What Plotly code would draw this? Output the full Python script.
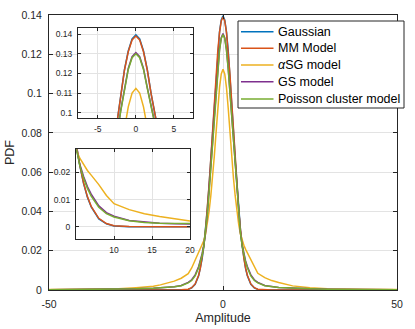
import plotly.graph_objects as go

amplitude = [-50, -40, -30, -25, -20, -18, -16, -14, -12, -10, -9, -8, -7, -6.5, -6, -5.5, -5, -4.5, -4, -3.5, -3, -2.5, -2, -1.5, -1, -0.5,
             0,
             0.5, 1, 1.5, 2, 2.5, 3, 3.5, 4, 4.5, 5, 5.5, 6, 6.5, 7, 8, 9, 10, 12, 14, 16, 18, 20, 25, 30, 40, 50]

gaussian = [0, 0, 0, 0, 0, 0, 0, 0, 0, 0.0003, 0.0011, 0.0029, 0.0073, 0.0109, 0.0159, 0.0225, 0.0309, 0.0412, 0.0532, 0.0667, 0.0811, 0.0958, 0.1097, 0.1219, 0.1314, 0.1375,
            0.1396,
            0.1375, 0.1314, 0.1219, 0.1097, 0.0958, 0.0811, 0.0667, 0.0532, 0.0412, 0.0309, 0.0225, 0.0159, 0.0109, 0.0073, 0.0029, 0.0011, 0.0003, 0, 0, 0, 0, 0, 0, 0, 0, 0]

mm_model = [0, 0, 0, 0, 0, 0, 0, 0, 0.0001, 0.0004, 0.0012, 0.0031, 0.0075, 0.0111, 0.0161, 0.0227, 0.0311, 0.0414, 0.0535, 0.0669, 0.0812, 0.0958, 0.1096, 0.1216, 0.1310, 0.1370,
            0.1390,
            0.1370, 0.1310, 0.1216, 0.1096, 0.0958, 0.0812, 0.0669, 0.0535, 0.0414, 0.0311, 0.0227, 0.0161, 0.0111, 0.0075, 0.0031, 0.0012, 0.0004, 0.0001, 0, 0, 0, 0, 0, 0, 0, 0]

asg_model = [0.0002, 0.0004, 0.0007, 0.0012, 0.0019, 0.0026, 0.0034, 0.0045, 0.0060, 0.0083, 0.0112, 0.0150, 0.0188, 0.0207, 0.0228, 0.0252, 0.0285, 0.0335, 0.0400, 0.0480, 0.0570, 0.0680, 0.0800, 0.0925, 0.1030, 0.1100,
             0.1124,
             0.1100, 0.1030, 0.0925, 0.0800, 0.0680, 0.0570, 0.0480, 0.0400, 0.0335, 0.0285, 0.0252, 0.0228, 0.0207, 0.0190, 0.0155, 0.0115, 0.0085, 0.0063, 0.0048, 0.0038, 0.0029, 0.0021, 0.0012, 0.0007, 0.0004, 0.0002]

gs_model = [0.0001, 0.0002, 0.0004, 0.0006, 0.0009, 0.0011, 0.0013, 0.0017, 0.0023, 0.0039, 0.0052, 0.0077, 0.0120, 0.0148, 0.0185, 0.0230, 0.0295, 0.0390, 0.0500, 0.0620, 0.0750, 0.0880, 0.1010, 0.1128, 0.1225, 0.1285,
            0.1306,
            0.1285, 0.1225, 0.1128, 0.1010, 0.0880, 0.0750, 0.0620, 0.0500, 0.0390, 0.0295, 0.0230, 0.0185, 0.0148, 0.0120, 0.0077, 0.0052, 0.0039, 0.0023, 0.0017, 0.0013, 0.0011, 0.0009, 0.0006, 0.0004, 0.0002, 0.0001]

poisson_model = [0.0001, 0.0002, 0.0004, 0.0006, 0.0009, 0.0011, 0.0013, 0.0016, 0.0022, 0.0036, 0.0048, 0.0072, 0.0113, 0.0141, 0.0178, 0.0226, 0.0293, 0.0389, 0.0499, 0.0619, 0.0748, 0.0877, 0.1006, 0.1124, 0.1220, 0.1280,
                 0.1300,
                 0.1280, 0.1220, 0.1124, 0.1006, 0.0877, 0.0748, 0.0619, 0.0499, 0.0389, 0.0293, 0.0226, 0.0178, 0.0141, 0.0113, 0.0072, 0.0048, 0.0036, 0.0022, 0.0016, 0.0013, 0.0011, 0.0009, 0.0006, 0.0004, 0.0002, 0.0001]

series_names = ["Gaussian", "MM Model", "<i>α</i>SG model", "GS model", "Poisson cluster model"]
series_values = [gaussian, mm_model, asg_model, gs_model, poisson_model]
series_colors = ["#0072BD", "#D95319", "#EDB120", "#7E2F8E", "#77AC30"]

main_yticks = [0, 0.02, 0.04, 0.06, 0.08, 0.1, 0.12, 0.14]
main_yticktext = ["0", "0.02", "0.04", "0.06", "0.08", "0.1", "0.12", "0.14"]
main_xticks = [-50, 0, 50]
main_xticktext = ["-50", "0", "50"]
inset1_xticks = [-5, 0, 5]
inset1_xticktext = ["-5", "0", "5"]
inset1_yticks = [0.1, 0.11, 0.12, 0.13, 0.14]
inset1_yticktext = ["0.1", "0.11", "0.12", "0.13", "0.14"]
inset2_xticks = [10, 15, 20]
inset2_yticks = [0, 0.01, 0.02]
inset2_yticktext = ["0", "0.01", "0.02"]

FONT = "Liberation Sans, Arial, sans-serif"
AX = "#262626"
GRID = "#e3e3e3"

# plot-area geometry (pixels) used for the hand-drawn legend box
L, R, T, B = 49, 397, 15, 290
W, H = R - L, B - T


def px(xp):
    return (xp - L) / W


def py(yp):
    return (B - yp) / H


fig = go.Figure()
for xa, ya in [("x", "y"), ("x2", "y2"), ("x3", "y3")]:
    for name, vals, col in zip(series_names, series_values, series_colors):
        fig.add_trace(go.Scatter(x=amplitude, y=vals, mode="lines", name=name,
                                 line=dict(color=col, width=1.5), xaxis=xa, yaxis=ya,
                                 showlegend=False, hoverinfo="skip"))


def axis(size, **kw):
    d = dict(showline=True, mirror="ticks", linecolor=AX, linewidth=1, ticks="inside",
             tickcolor=AX, showgrid=True, gridcolor=GRID, zeroline=False, automargin=False,
             tickfont=dict(family=FONT, color=AX, size=size))
    d.update(kw)
    return d


fig.update_layout(
    width=415, height=329,
    margin=dict(l=L, r=415 - R, t=T, b=329 - B, autoexpand=False),
    paper_bgcolor="white", plot_bgcolor="white",
    font=dict(family=FONT, color=AX),
    showlegend=False,
    xaxis=axis(10.5, domain=[0, 1], range=[-50, 50], tickvals=main_xticks, ticktext=main_xticktext,
               ticklen=4, ticklabelstandoff=4,
               title=dict(text="Amplitude", font=dict(size=12.5, color=AX), standoff=4)),
    yaxis=axis(10.5, domain=[0, 1], range=[0, 0.14], tickvals=main_yticks, ticktext=main_yticktext,
               ticklen=4, ticklabelstandoff=4,
               title=dict(text="PDF", font=dict(size=12.5, color=AX), standoff=4)),
    xaxis2=axis(8.5, domain=[px(78), px(193)], range=[-7.6, 7.5], tickvals=inset1_xticks,
                ticktext=inset1_xticktext, anchor="y2", ticklen=3, ticklabelstandoff=3),
    yaxis2=axis(8.5, domain=[py(118), py(28)], range=[0.0973, 0.1431], tickvals=inset1_yticks,
                ticktext=inset1_yticktext, anchor="x2", ticklen=3, ticklabelstandoff=3),
    xaxis3=axis(8.5, domain=[px(76), px(190)], range=[5, 20], tickvals=inset2_xticks,
                anchor="y3", ticklen=3, ticklabelstandoff=3),
    yaxis3=axis(8.5, domain=[py(239), py(149.3)], range=[-0.0045, 0.0285], tickvals=inset2_yticks,
                ticktext=inset2_yticktext, anchor="x3", ticklen=3, ticklabelstandoff=3),
)

# legend box
shapes = [dict(type="rect", xref="paper", yref="paper", x0=px(238), x1=px(404), y0=py(108), y1=py(21),
               fillcolor="white", line=dict(color=AX, width=1), layer="above")]
annotations = []
entry_y = [31.7, 48.3, 65, 81.7, 99]
for name, col, ey in zip(series_names, series_colors, entry_y):
    shapes.append(dict(type="line", xref="paper", yref="paper", x0=px(241), x1=px(273.5), y0=py(ey), y1=py(ey),
                       line=dict(color=col, width=1.5), layer="above"))
    annotations.append(dict(xref="paper", yref="paper", x=px(276), y=py(ey), xanchor="left", yanchor="middle",
                            text=name, showarrow=False, font=dict(family=FONT, size=12.5, color="black")))
fig.update_layout(shapes=shapes, annotations=annotations)

fig.write_html("out.html", config={"displayModeBar": False},
               post_script="document.body.style.margin='0';")
